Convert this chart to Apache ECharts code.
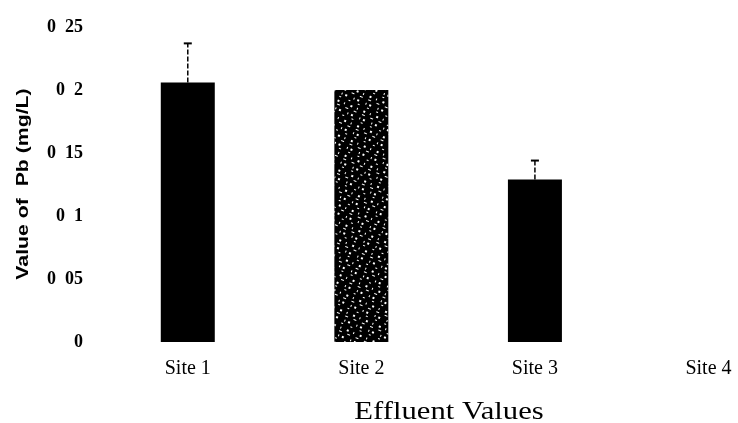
<!DOCTYPE html>
<html>
<head>
<meta charset="utf-8">
<script src="https://cdn.jsdelivr.net/npm/echarts@6/dist/echarts.min.js"></script>
<style>html,body{margin:0;padding:0;background:#fff}#c{width:738px;height:423px}</style>
</head>
<body>
<div id="c"></div>
<script>
// Pb concentration in effluent by sampling site
const sites = ['Site 1', 'Site 2', 'Site 3', 'Site 4'];
const pbValues = [0.206, 0.2, 0.129, null];
const pbErrors = [0.031, null, 0.015, null];
const yTicks = [0, 0.05, 0.1, 0.15, 0.2, 0.25];

const serif = '"Liberation Serif", "DejaVu Serif", serif';
const sans = '"Liberation Sans", Arial, sans-serif';
const chart = echarts.init(document.getElementById('c'));

// mottled fill for the Site 2 bar
const speckle = {
  symbol: 'rect',
  symbolSize: 1,
  color: '#ffffff',
  dashArrayX: [[2, 5, 1, 6], [3, 6], [1, 3, 2, 7], [2, 8]],
  dashArrayY: [2, 2, 1, 3],
  rotation: 0.4
};

// site positions on the x scale (one unit per site; Site 4 sits near the right edge)
const sitePos = sites.map((s, i) => i);

chart.setOption({
  animation: false,
  backgroundColor: '#fff',
  grid: { left: 101, right: 0, top: 27, bottom: 81 },
  xAxis: {
    type: 'value',
    min: -0.5,
    max: 3.17,
    splitLine: { show: false },
    axisLine: { show: false },
    axisTick: { show: false },
    axisLabel: {
      customValues: sitePos,
      showMinLabel: true,
      showMaxLabel: true,
      color: '#000', fontFamily: serif, fontSize: 20, margin: 17,
      formatter: v => sites[Math.round(v)]
    }
  },
  yAxis: {
    type: 'value',
    min: yTicks[0],
    max: yTicks[yTicks.length - 1],
    interval: 0.05,
    splitLine: { show: false },
    axisLine: { show: false },
    axisTick: { show: false },
    axisLabel: {
      color: '#000', fontFamily: serif, fontSize: 18, fontWeight: 'bold', margin: 18,
      formatter: v => String(+v.toFixed(2)).replace('.', '  ')
    }
  },
  graphic: [
    {
      type: 'text',
      x: 23, y: 184,
      rotation: Math.PI / 2,
      scaleX: 1.25,
      style: {
        text: 'Value of  Pb (mg/L)',
        x: 0, y: 0,
        align: 'center',
        verticalAlign: 'middle',
        font: 'bold 17px ' + sans,
        fill: '#000'
      }
    },
    {
      type: 'text',
      x: 449, y: 399,
      scaleX: 1.18,
      style: {
        text: 'Effluent Values',
        x: 0, y: 0,
        align: 'center',
        verticalAlign: 'top',
        font: '26px ' + serif,
        fill: '#000'
      }
    }
  ],
  series: [
    {
      type: 'bar',
      barWidth: 54,
      data: pbValues.map((v, i) => ({
        value: [sitePos[i], v],
        itemStyle: i === 1 ? { color: '#000', decal: speckle } : { color: '#000' }
      })),
      z: 2
    },
    {
      type: 'custom',
      z: 3,
      data: pbValues.map((v, i) => [sitePos[i], v, pbErrors[i]]),
      renderItem: (params, api) => {
        const v = api.value(1), e = api.value(2);
        if (e == null || isNaN(e) || v == null || isNaN(v)) return;
        const p0 = api.coord([api.value(0), v]);
        const p1 = api.coord([api.value(0), v + e]);
        return {
          type: 'group',
          children: [
            { type: 'line', shape: { x1: p0[0], y1: p0[1], x2: p1[0], y2: p1[1] }, style: { stroke: '#000', lineWidth: 1.5, lineDash: [5, 2] } },
            { type: 'line', shape: { x1: p1[0] - 4, y1: p1[1], x2: p1[0] + 4, y2: p1[1] }, style: { stroke: '#000', lineWidth: 2 } }
          ]
        };
      }
    }
  ]
});
</script>
</body>
</html>
